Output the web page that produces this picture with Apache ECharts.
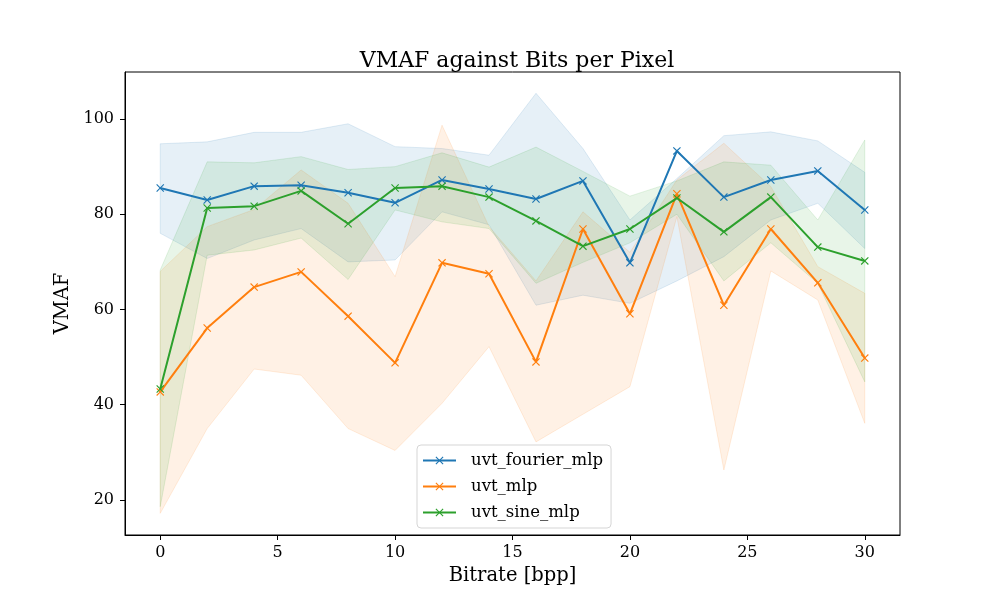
<!DOCTYPE html>
<html>
<head>
<meta charset="utf-8">
<script src="https://cdn.jsdelivr.net/npm/echarts@6/dist/echarts.min.js"></script>
<style>
  html, body { margin: 0; padding: 0; background: #fff; }
  #chart { width: 1000px; height: 600px; }
</style>
</head>
<body>
<div id="chart"></div>
<script>
  // bitrate values (bpp)
  const bitrates = [0, 2, 4, 6, 8, 10, 12, 14, 16, 18, 20, 22, 24, 26, 28, 30];

  const fourierMean  = [85.5, 83.0, 85.9, 86.1, 84.5, 82.4, 87.2, 85.3, 83.2, 87.0, 69.8, 93.3, 83.6, 87.2, 89.1, 80.9];
  const fourierUpper = [94.8, 95.2, 97.2, 97.2, 99.0, 94.2, 93.8, 92.4, 105.4, 93.8, 78.8, 87.5, 96.5, 97.3, 95.4, 88.8];
  const fourierLower = [76.0, 70.7, 74.6, 77.0, 70.0, 70.4, 80.5, 77.8, 60.9, 63.0, 61.3, 66.0, 71.1, 78.8, 82.3, 72.8];

  const mlpMean  = [42.7, 56.1, 64.7, 67.9, 58.6, 48.8, 69.8, 67.5, 49.0, 76.9, 59.1, 84.3, 60.9, 76.9, 65.6, 49.8];
  const mlpUpper = [68.0, 77.4, 81.0, 89.3, 82.3, 66.9, 98.7, 77.4, 66.0, 80.5, 72.0, 87.2, 94.9, 85.8, 69.0, 63.4];
  const mlpLower = [17.2, 35.0, 47.5, 46.2, 35.0, 30.4, 40.3, 52.2, 32.2, 38.0, 43.8, 79.5, 26.3, 68.1, 62.0, 36.1];

  const sineMean  = [43.3, 81.3, 81.7, 84.9, 78.0, 85.5, 85.9, 83.6, 78.6, 73.3, 76.9, 83.4, 76.3, 83.6, 73.1, 70.2];
  const sineUpper = [68.3, 91.0, 90.8, 92.1, 89.4, 90.0, 92.9, 89.9, 94.1, 89.0, 83.8, 87.0, 91.0, 90.3, 78.8, 95.6];
  const sineLower = [18.6, 71.4, 72.5, 75.0, 66.3, 80.9, 78.4, 77.0, 65.5, 69.9, 74.0, 80.0, 66.0, 74.0, 65.5, 44.8];

  const xTicks = [0, 5, 10, 15, 20, 25, 30];
  const yTicks = [20, 40, 60, 80, 100];

  const FONT = "'DejaVu Serif', serif";
  const X_MARK = 'path://M0,1L1,0L5,4L9,0L10,1L6,5L10,9L9,10L5,6L1,10L0,9L4,5Z';

  function rgba(hex, a) {
    const n = parseInt(hex.slice(1), 16);
    return 'rgba(' + (n >> 16) + ',' + ((n >> 8) & 255) + ',' + (n & 255) + ',' + a + ')';
  }

  function band(name, color, lower, upper) {
    return {
      type: 'custom',
      name: name + ' band',
      silent: true,
      z: 1,
      data: bitrates.map((x, i) => [x, lower[i], upper[i]]),
      encode: { x: 0, y: [1, 2] },
      renderItem: function (params, api) {
        if (params.dataIndex !== 0) return null;
        let pts = [];
        for (let i = 0; i < bitrates.length; i++) pts.push(api.coord([bitrates[i], upper[i]]));
        for (let i = bitrates.length - 1; i >= 0; i--) pts.push(api.coord([bitrates[i], lower[i]]));
        return {
          type: 'polygon',
          shape: { points: pts },
          style: { fill: rgba(color, 0.11), stroke: rgba(color, 0.13), lineWidth: 1 }
        };
      }
    };
  }

  function line(name, color, vals) {
    return {
      type: 'line',
      name: name,
      z: 3,
      data: bitrates.map((x, i) => [x, vals[i]]),
      symbol: X_MARK,
      symbolSize: 8,
      showSymbol: true,
      lineStyle: { color: color, width: 2 },
      itemStyle: { color: color },
      emphasis: { disabled: true }
    };
  }

  const chart = echarts.init(document.getElementById('chart'));
  chart.setOption({
    animation: false,
    textStyle: { fontFamily: FONT },
    title: {
      text: 'VMAF against Bits per Pixel',
      left: 512,
      textAlign: 'center',
      top: 45,
      textStyle: { fontFamily: FONT, fontSize: 22, fontWeight: 'normal', color: '#000' }
    },
    grid: {
      left: 125, right: 100, top: 72, bottom: 65,
      show: true, borderColor: '#000', borderWidth: 1, backgroundColor: 'transparent'
    },
    legend: {
      data: ['uvt_fourier_mlp', 'uvt_mlp', 'uvt_sine_mlp'],
      orient: 'vertical',
      left: 417,
      top: 445,
      padding: [7, 8, 7, 5],
      itemWidth: 33,
      itemHeight: 10,
      itemGap: 9,
      backgroundColor: 'rgba(255,255,255,0.8)',
      borderColor: '#d5d5d5',
      borderWidth: 1,
      borderRadius: 4,
      textStyle: { fontFamily: FONT, fontSize: 16.5, color: '#000', lineHeight: 17, padding: [0, 0, 0, 10] }
    },
    xAxis: {
      type: 'value',
      min: -1.5,
      max: 31.5,
      name: 'Bitrate [bpp]',
      nameLocation: 'middle',
      nameGap: 28,
      nameTextStyle: { fontFamily: FONT, fontSize: 19.5, color: '#000' },
      axisLine: { show: true, onZero: false, lineStyle: { color: '#000' } },
      axisTick: { show: true, customValues: xTicks, length: 5, lineStyle: { color: '#000' } },
      axisLabel: { customValues: xTicks, margin: 10, fontFamily: FONT, fontSize: 16, color: '#000' },
      splitLine: { show: false }
    },
    yAxis: {
      type: 'value',
      min: 12.65,
      max: 109.87,
      name: 'VMAF',
      nameLocation: 'middle',
      nameGap: 47,
      nameTextStyle: { fontFamily: FONT, fontSize: 19.5, color: '#000' },
      axisLine: { show: true, onZero: false, lineStyle: { color: '#000' } },
      axisTick: { show: true, customValues: yTicks, length: 5, lineStyle: { color: '#000' } },
      axisLabel: { customValues: yTicks, margin: 11, fontFamily: FONT, fontSize: 16, color: '#000' },
      splitLine: { show: false }
    },
    series: [
      band('uvt_fourier_mlp', '#1f77b4', fourierLower, fourierUpper),
      band('uvt_mlp', '#ff7f0e', mlpLower, mlpUpper),
      band('uvt_sine_mlp', '#2ca02c', sineLower, sineUpper),
      line('uvt_fourier_mlp', '#1f77b4', fourierMean),
      line('uvt_mlp', '#ff7f0e', mlpMean),
      line('uvt_sine_mlp', '#2ca02c', sineMean)
    ]
  });
</script>
</body>
</html>
